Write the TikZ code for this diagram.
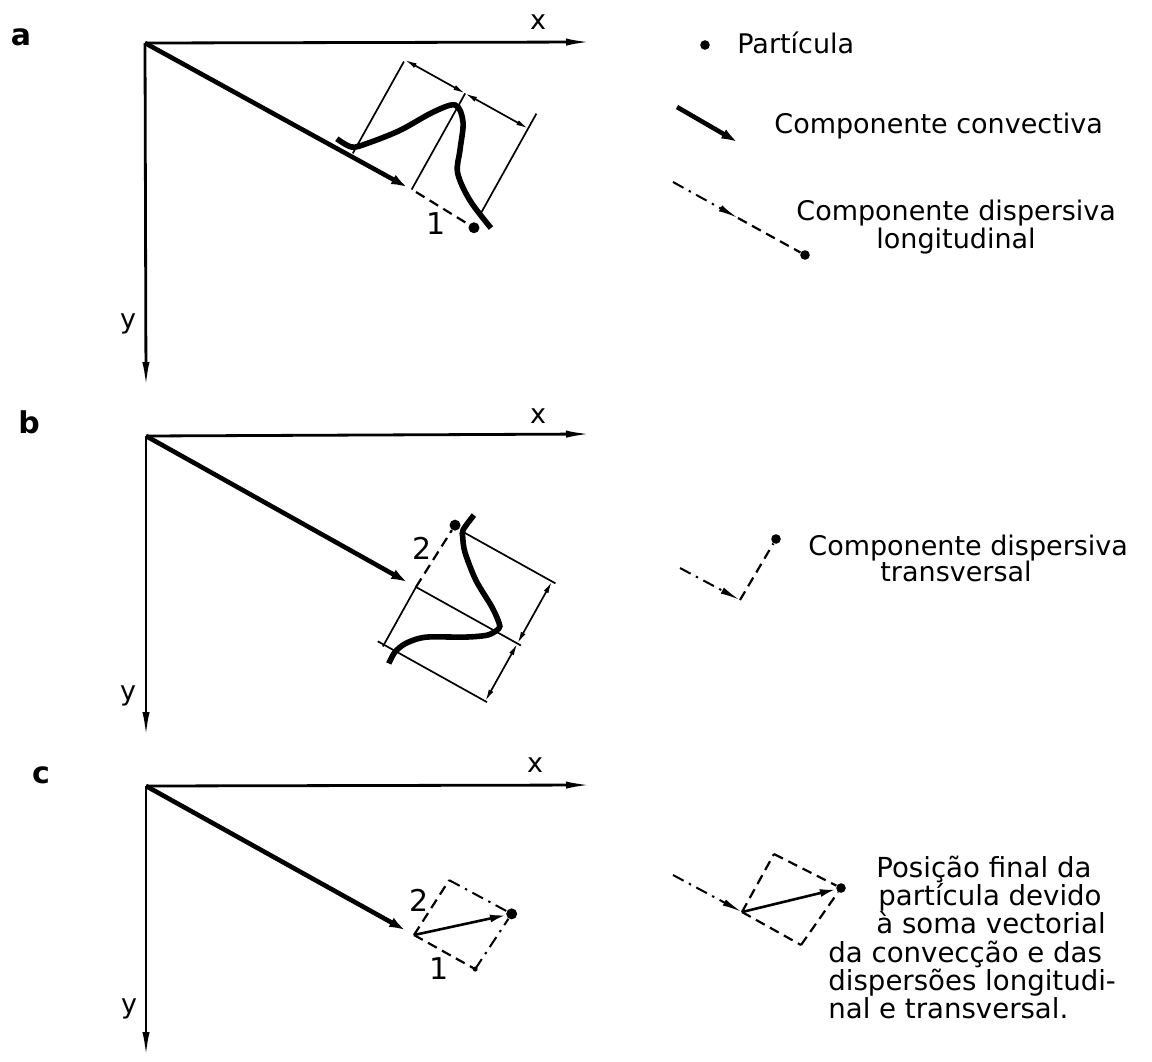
\documentclass[tikz,border=0pt]{standalone}
\usepackage{fontspec}
\setmainfont{DejaVu Sans}
\usetikzlibrary{arrows.meta}
\begin{document}
\begin{tikzpicture}[x=0.5pt,y=-0.5pt,
  axisline/.style={line width=1.4pt,-{Latex[length=13pt,width=3.6pt]}},
  convline/.style={line width=2.3pt,-{Latex[length=13pt,width=4.6pt]}},
  thinline/.style={line width=0.85pt},
  dimline/.style={line width=0.85pt,{Latex[length=6pt,width=2.6pt]}-{Latex[length=6pt,width=2.6pt]}},
  dashline/.style={line width=1.1pt,dash pattern=on 5pt off 3pt},
  dashdotline/.style={line width=1pt,dash pattern=on 6pt off 3pt on 1.2pt off 3pt},
  dashdottip/.style={dashdotline,-{Latex[length=10pt,width=3.4pt]}},
  resline/.style={line width=1.3pt,-{Latex[length=8pt,width=4pt]}},
  curveline/.style={line width=2.8pt},
  particle/.style={circle,fill,inner sep=0pt,minimum size=5.5pt},
  legdot/.style={circle,fill,inner sep=0pt,minimum size=4.8pt},
  smalldot/.style={circle,fill,inner sep=0pt,minimum size=2.5pt},
  txt/.style={font=\fontsize{13.5}{16}\selectfont,inner sep=0pt,anchor=base west},
  bigtxt/.style={font=\fontsize{13.8}{16}\selectfont,inner sep=0pt,anchor=base west},
  axlbl/.style={font=\fontsize{13.5}{16}\selectfont,inner sep=0pt},
  numlbl/.style={font=\fontsize{15}{18}\selectfont,inner sep=0pt},
  panellbl/.style={font=\bfseries\fontsize{15}{18}\selectfont,inner sep=0pt}]
\useasboundingbox[fill=white] (0,0) rectangle (1152,1061);

% ---------------- panel a ----------------
\coordinate (Oa) at (145,43);
\coordinate (XaE) at (592,42);
\coordinate (YaE) at (146,388);
\draw[axisline] (Oa) -- (XaE);
\draw[axisline] (Oa) -- (YaE);
\node[panellbl] (la) at (21,37) {a};
\node[axlbl] (xa) at (538,22) {x};
\node[axlbl] (ya) at (128,324) {y};
\begin{scope}[shift={(416,192)},x={(0.437pt,-0.2435pt)},y={(0.2435pt,0.437pt)}]
  \coordinate (Ta) at (0,0);
  \node[particle] (Pa) at (68,-3) {};
  \draw[thinline] (-74,3) -- (-74,108);
  \draw[thinline] (-5,0) -- (-5,110);
  \draw[thinline] (67,12) -- (67,127);
  \draw[dimline] (-74,110) -- (-5,110);
  \draw[dimline] (-5,110) -- (67,110);
  \draw[curveline] plot[smooth,tension=0.55] coordinates
    {(-95,8) (-78,8) (-66,19) (-44,46) (-24,78) (-8,95) (7,84) (18,58) (27,37) (51,19) (83,5)};
\end{scope}
\draw[convline] (Oa) -- (Ta);
\draw[dashline] (Ta) -- (Pa);
\node[numlbl] (n1a) at (436,224) {1};

% ---------------- panel b ----------------
\coordinate (Ob) at (146,436);
\coordinate (XbE) at (592,434);
\coordinate (YbE) at (146,738);
\draw[axisline] (Ob) -- (XbE);
\draw[axisline] (Ob) -- (YbE);
\node[panellbl] (lb) at (29,422) {b};
\node[axlbl] (xb) at (538,416) {x};
\node[axlbl] (yb) at (128,696) {y};
\begin{scope}[shift={(416,587)},x={(0.437pt,-0.2435pt)},y={(0.2435pt,0.437pt)}]
  \coordinate (Tb) at (0,0);
  \node[particle] (Db) at (4,73) {};
  \draw[thinline] (16,71) -- (120,71);
  \draw[thinline] (0,0) -- (120,0);
  \draw[thinline] (-7,-66) -- (118,-66);
  \draw[thinline] (0,0) -- (0,-68);
  \draw[dimline] (116,71) -- (116,0);
  \draw[dimline] (116,0) -- (116,-66);
  \draw[curveline] plot[smooth,tension=0.5] coordinates
    {(15.6,91) (13.3,73) (16.7,66) (26,54) (49,35) (76,19.5) (90,9) (92.5,4) (86,-7) (67,-20) (33,-39) (18.6,-54) (13.3,-67) (13.4,-80)};
\end{scope}
\draw[convline] (Ob) -- (Tb);
\draw[dashline] (Tb) -- (Db);
\node[numlbl] (n2b) at (422,548) {2};

% ---------------- panel c ----------------
\coordinate (Oc) at (146,786);
\coordinate (XcE) at (592,785);
\coordinate (YcE) at (146,1058);
\draw[axisline] (Oc) -- (XcE);
\draw[axisline] (Oc) -- (YcE);
\node[panellbl] (lc) at (41,775) {c};
\node[axlbl] (xc) at (535,765) {x};
\node[axlbl] (yc) at (129,1009) {y};
\begin{scope}[shift={(414,935)},x={(0.437pt,-0.2435pt)},y={(0.2435pt,0.437pt)}]
  \coordinate (Tc) at (0,0);
  \coordinate (C1) at (70,0);
  \coordinate (C2) at (4,65);
  \node[particle] (Pc) at (75,66) {};
\end{scope}
\draw[convline] (Oc) -- (Tc);
\draw[dashline] (Tc) -- (C1);
\draw[dashline] (Tc) -- (C2);
\draw[dashdotline] (C1) -- (Pc);
\draw[dashdotline] (C2) -- (Pc);
\draw[resline] (Tc) -- (Pc);
\node[smalldot] (c1d) at (C1) {};
\node[numlbl] (n1c) at (439,969) {1};
\node[numlbl] (n2c) at (419,900) {2};

% ---------------- legend ----------------
\node[legdot] (lp) at (705,45) {};
\node[txt] (tp) at (737,53) {Partícula};

\coordinate (lc1) at (677,107);
\coordinate (lc2) at (746,147);
\draw[convline] (lc1) -- (lc2);
\node[txt] (tcv) at (774,133) {Componente convectiva};

\coordinate (ll1) at (673,182);
\coordinate (ll2) at (738,218);
\node[legdot] (ll3) at (805,255) {};
\draw[dashdottip] (ll1) -- (ll2);
\draw[dashline] (ll2) -- (ll3);
\node[txt] (tl1) at (796,220) {Componente dispersiva};
\node[txt] (tl2) at (876,248) {longitudinal};

\coordinate (lt1) at (680,568);
\coordinate (lt2) at (740,600);
\node[legdot] (lt3) at (776,539) {};
\draw[dashdottip] (lt1) -- (lt2);
\draw[dashline] (lt2) -- (lt3);
\node[txt] (tt1) at (808,555) {Componente dispersiva};
\node[txt] (tt2) at (880,581) {transversal};

\coordinate (lf1) at (673,875);
\coordinate (lfB) at (742,912);
\coordinate (lfU) at (774,854);
\coordinate (lfR) at (801,945);
\node[legdot] (lfD) at (841,888) {};
\draw[dashdottip] (lf1) -- (lfB);
\draw[dashline] (lfB) -- (lfU);
\draw[dashline] (lfU) -- (lfD);
\draw[dashline] (lfB) -- (lfR);
\draw[dashline] (lfR) -- (lfD);
\draw[resline] (lfB) -- (lfD);
\node[bigtxt] (f1) at (876,877) {Posição final da};
\node[bigtxt] (f2) at (878,905) {partícula devido};
\node[bigtxt] (f3) at (876,933) {à soma vectorial};
\node[bigtxt] (f4) at (828,962) {da convecção e das};
\node[bigtxt] (f5) at (828,990) {dispersões longitudi-};
\node[bigtxt] (f6) at (828,1018) {nal e transversal.};
\end{tikzpicture}
\end{document}
